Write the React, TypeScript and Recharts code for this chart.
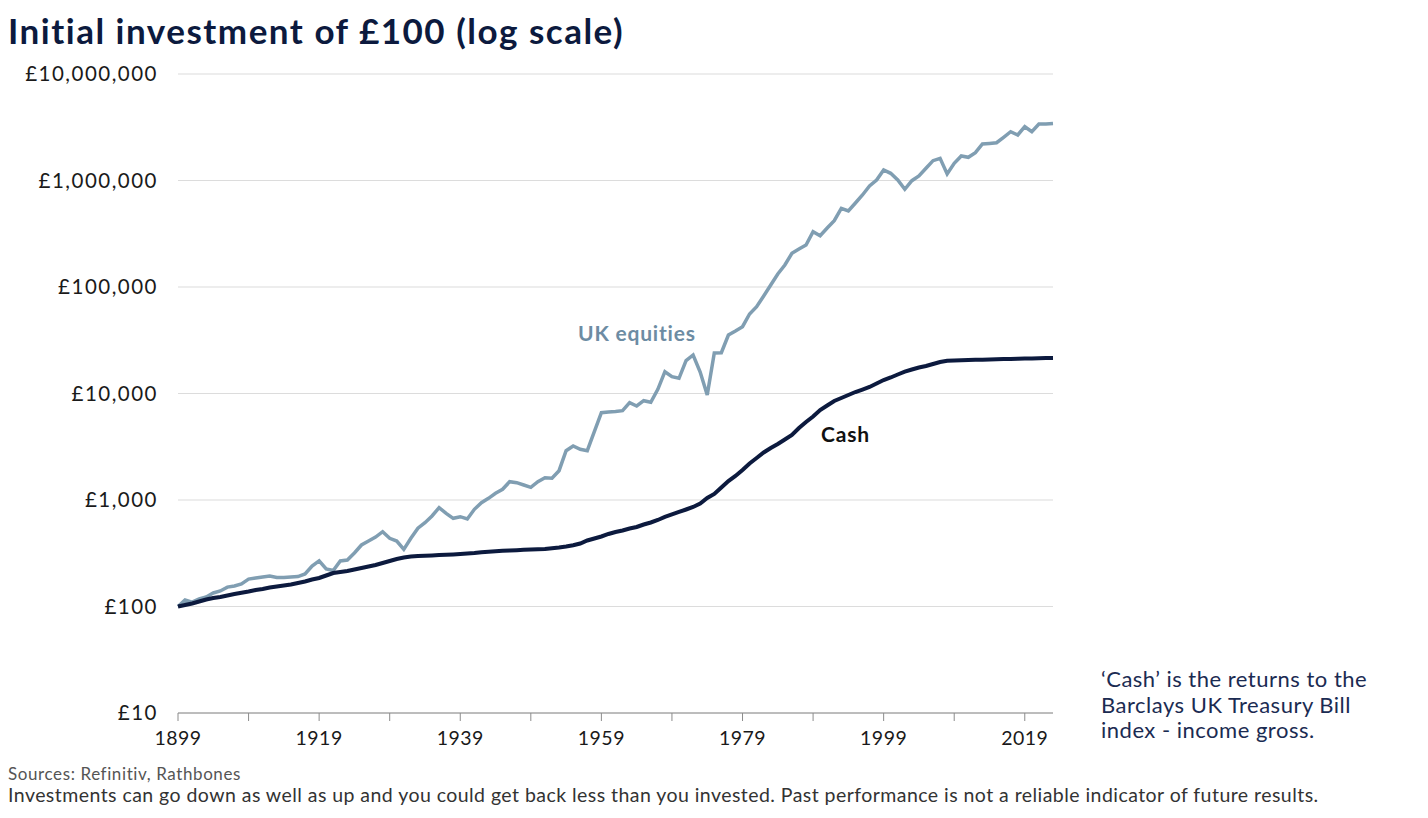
import React from "react"
import { LineChart, Line, XAxis, YAxis, CartesianGrid } from "recharts"

// annual values, £100 invested at end of 1899
const startYear = 1899

const ukEquities = [
  100, 115, 110, 118, 123, 134, 140, 152, 156, 163,
  181, 185, 189, 193, 187, 187, 189, 191, 202, 240,
  268, 225, 218, 268, 273, 318, 378, 412, 449, 504,
  437, 412, 344, 437, 543, 612, 708, 847, 750, 673,
  697, 663, 818, 943, 1037, 1156, 1260, 1486, 1454, 1383,
  1316, 1486, 1620, 1599, 1884, 2903, 3214, 2993, 2903, 4379,
  6603, 6704, 6777, 6895, 8199, 7633, 8559, 8270, 10950, 16020,
  14380, 13890, 20330, 22990, 15920, 9681, 24010, 24170, 35420, 38630,
  42390, 55790, 65330, 82300, 104400, 132400, 160900, 207200, 227500, 248000,
  330600, 303200, 358100, 419500, 548300, 517300, 614800, 731100, 887900, 1010800,
  1255000, 1168000, 1011000, 827000, 996000, 1102000, 1302000, 1535000, 1616000, 1151000,
  1450000, 1699000, 1651000, 1824000, 2202000, 2230000, 2265000, 2544000, 2872000, 2675000,
  3200000, 2872000, 3393000, 3393000, 3429000,
]

const cash = [
  100, 103.3, 106.7, 111.4, 116.4, 120.2, 122.8, 126.8, 131.0, 134.8,
  138.3, 142.9, 146.0, 150.8, 154.1, 157.5, 160.9, 166.3, 171.7, 179.3,
  185.2, 195.5, 206.3, 210.8, 215.4, 222.5, 229.9, 237.5, 245.3, 256.2,
  267.5, 279.3, 288.5, 294.8, 298.0, 300.0, 301.9, 303.9, 305.9, 308.5,
  311.2, 314.6, 318.0, 322.9, 326.4, 330.6, 333.4, 335.6, 337.8, 340.7,
  342.9, 344.4, 346.7, 352.0, 358.1, 366.0, 375.6, 390.5, 416.7, 435.1,
  454.3, 479.6, 500.8, 517.3, 540.2, 558.0, 588.8, 614.8, 649.0, 692.7,
  731.1, 771.7, 814.5, 859.7, 927.3, 1044, 1139, 1311, 1508, 1681,
  1913, 2202, 2480, 2793, 3078, 3357, 3699, 4076, 4743, 5402,
  6082, 7000, 7717, 8504, 9073, 9681, 10330, 10900, 11510, 12410,
  13390, 14130, 15080, 16020, 16800, 17540, 18120, 18920, 19760, 20330,
  20420, 20510, 20600, 20690, 20780, 20870, 20960, 21050, 21140, 21230,
  21330, 21370, 21420, 21510, 21560,
]

const xTicks = [1899, 1909, 1919, 1929, 1939, 1949, 1959, 1969, 1979, 1989, 1999, 2009, 2019]
const xLabelled = [1899, 1919, 1939, 1959, 1979, 1999, 2019]
const yTicks = [10, 100, 1000, 10000, 100000, 1000000, 10000000]

const noteLines = ["‘Cash’ is the returns to the", "Barclays UK Treasury Bill", "index - income gross."]

const data = ukEquities.map((v, i) => ({ year: startYear + i, equities: v, cash: cash[i] }))

const font = "Lato, 'Open Sans', sans-serif"
const navy = "#0c1a3e"

const fmtPounds = (v: number) => "£" + String(v).replace(/\B(?=(\d{3})+(?!\d))/g, ",")

export default function App() {
  return (
    <div style={{ position: "absolute", left: 0, top: 0, width: 1428, height: 818, background: "#fff", fontFamily: font }}>
      <div style={{ position: "absolute", left: 8, top: 13, fontSize: 35, fontWeight: 700, color: navy, lineHeight: 1, letterSpacing: 1.5, whiteSpace: "nowrap" }}>
        Initial investment of £100 (log scale)
      </div>

      <div style={{ position: "absolute", left: 0, top: 0 }}>
        <LineChart width={1428} height={818} data={data} margin={{ top: 74, right: 375, left: 20, bottom: 0 }}>
          <CartesianGrid vertical={false} stroke="#dcdcdc" strokeWidth={1.2} />
          <XAxis
            dataKey="year"
            type="number"
            domain={[1899, 2023]}
            ticks={xTicks}
            tickFormatter={(v) => (xLabelled.includes(v) ? String(v) : "")}
            height={105}
            stroke="#8c8c8c"
            tickSize={8}
            tickMargin={10}
            tick={{ fill: "#1a1a1a", fontSize: 19.5, fontFamily: font, letterSpacing: 0.5 }}
            interval={0}
          />
          <YAxis
            type="number"
            scale="log"
            domain={[10, 10000000]}
            ticks={yTicks}
            allowDataOverflow
            width={158}
            axisLine={false}
            tickLine={false}
            tickSize={6}
            tickMargin={14}
            tickFormatter={fmtPounds}
            tick={{ fill: "#1a1a1a", fontSize: 20.5, fontFamily: font, letterSpacing: 1.5 }}
            interval={0}
          />
          <Line type="linear" dataKey="equities" stroke="#809eb2" strokeWidth={3.5} dot={false} isAnimationActive={false} />
          <Line type="linear" dataKey="cash" stroke={navy} strokeWidth={4} dot={false} isAnimationActive={false} />
        </LineChart>
      </div>

      <div style={{ position: "absolute", left: 578, top: 322, fontSize: 21, fontWeight: 700, color: "#6d8ca3", lineHeight: 1, letterSpacing: 0.8, whiteSpace: "nowrap" }}>
        UK equities
      </div>
      <div style={{ position: "absolute", left: 821, top: 423, fontSize: 21, fontWeight: 700, color: "#111", lineHeight: 1, letterSpacing: 0.8, whiteSpace: "nowrap" }}>
        Cash
      </div>

      <div style={{ position: "absolute", left: 1101, top: 666, fontSize: 22, color: "#1b2b52", lineHeight: "25.5px", letterSpacing: 0.5 }}>
        {noteLines.map((l) => (
          <div key={l} style={{ whiteSpace: "nowrap" }}>{l}</div>
        ))}
      </div>

      <div style={{ position: "absolute", left: 8, top: 765, fontSize: 17, color: "#555", lineHeight: 1, letterSpacing: 0.6, whiteSpace: "nowrap" }}>
        Sources: Refinitiv, Rathbones
      </div>
      <div style={{ position: "absolute", left: 8, top: 785, fontSize: 19.5, color: "#333", lineHeight: 1, letterSpacing: 0.45, whiteSpace: "nowrap" }}>
        Investments can go down as well as up and you could get back less than you invested. Past performance is not a reliable indicator of future results.
      </div>
    </div>
  )
}
